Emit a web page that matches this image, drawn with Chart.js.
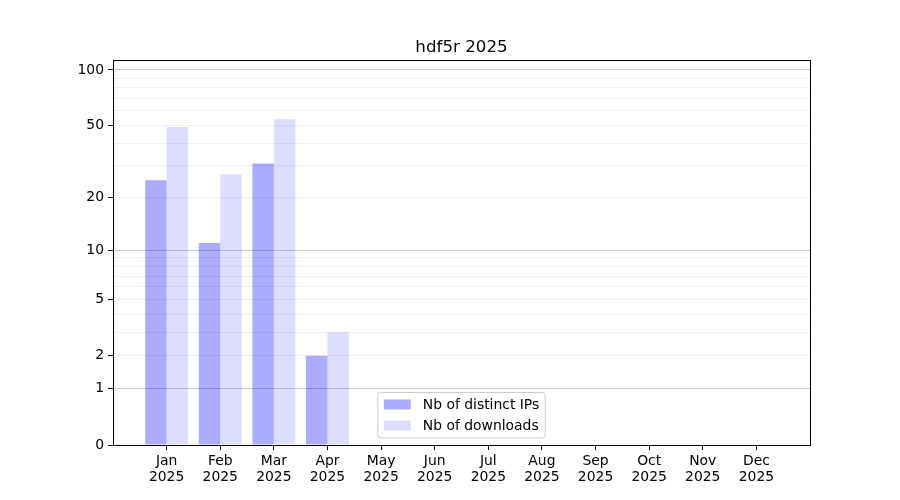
<!DOCTYPE html>
<html>
<head>
<meta charset="utf-8">
<script src="https://cdn.jsdelivr.net/npm/chart.js@4/dist/chart.umd.min.js"></script>
<style>
  html, body { margin: 0; padding: 0; background: #ffffff; }
  #wrap { width: 900px; height: 500px; position: relative; }
</style>
</head>
<body>
<div id="wrap"><canvas id="c" width="900" height="500"></canvas></div>
<script>
// ---- data ----
const chartTitle = 'hdf5r 2025';
const months = ['Jan', 'Feb', 'Mar', 'Apr', 'May', 'Jun', 'Jul', 'Aug', 'Sep', 'Oct', 'Nov', 'Dec'];
const yearLabel = '2025';
const distinctIPs = [25, 11, 31, 2, null, null, null, null, null, null, null, null];
const downloads = [49, 27, 54, 3, null, null, null, null, null, null, null, null];
const seriesLabels = ['Nb of distinct IPs', 'Nb of downloads'];
const yLabelTicks = [0, 1, 2, 5, 10, 20, 50, 100];
const yDecadeTicks = [1, 10, 100];
const yGridTicks = [0, 1, 2, 3, 4, 5, 6, 7, 8, 9, 10, 20, 30, 40, 50, 60, 70, 80, 90, 100];

// y axis transform: log10(1 + v)
const tf = v => Math.log10(1 + v);
const inv = t => Math.round(Math.pow(10, t) - 1);

const FONT = "'DejaVu Sans', sans-serif";
const colIPs = 'rgba(0, 0, 255, 0.33)';
const colDl = 'rgba(0, 0, 255, 0.133)';

const toPoints = arr => arr.map((v, i) => ({ x: i, y: v == null ? null : tf(v) }));

const frame = {
  id: 'frame',
  afterDraw(chart) {
    const { ctx, chartArea: a } = chart;
    ctx.save();
    ctx.strokeStyle = '#000';
    ctx.lineWidth = 1;
    ctx.strokeRect(Math.round(a.left) + 0.5, Math.round(a.top) + 0.5,
      Math.round(a.right - a.left), Math.round(a.bottom - a.top));
    // title centred over the plot area
    ctx.fillStyle = '#000';
    ctx.font = '16.7px ' + FONT;
    ctx.textAlign = 'center';
    ctx.textBaseline = 'alphabetic';
    ctx.fillText(chartTitle, (a.left + a.right) / 2, a.top - 8.5);
    ctx.restore();
  }
};

const boxLegend = {
  id: 'boxLegend',
  afterDatasetsDraw(chart) {
    const { ctx, chartArea: a } = chart;
    const ds = chart.data.datasets;
    ctx.save();
    ctx.font = '13.9px ' + FONT;
    const tw = Math.max(...ds.map(d => ctx.measureText(d.label).width));
    const w = 6 + 27 + 12 + tw + 6;
    const h = 45.5;
    const x0 = (a.left + a.right) / 2 - w / 2;
    const y0 = a.bottom - 7 - h;
    ctx.beginPath();
    ctx.roundRect(x0, y0, w, h, 3);
    ctx.fillStyle = 'rgba(255,255,255,0.8)';
    ctx.fill();
    ctx.strokeStyle = '#cccccc';
    ctx.lineWidth = 1;
    ctx.stroke();
    ds.forEach((d, i) => {
      const cy = y0 + 12 + i * 21;
      ctx.fillStyle = d.backgroundColor;
      ctx.fillRect(x0 + 6, cy - 5, 27, 10);
      ctx.fillStyle = '#000';
      ctx.textBaseline = 'middle';
      ctx.textAlign = 'left';
      ctx.fillText(d.label, x0 + 45, cy + 0.5);
    });
    ctx.restore();
  }
};

new Chart(document.getElementById('c'), {
  type: 'bar',
  data: {
    datasets: [
      { label: seriesLabels[0], data: toPoints(distinctIPs), backgroundColor: colIPs,
        barPercentage: 1.0, categoryPercentage: 0.8 },
      { label: seriesLabels[1], data: toPoints(downloads), backgroundColor: colDl,
        barPercentage: 1.0, categoryPercentage: 0.8 }
    ]
  },
  options: {
    responsive: false,
    animation: false,
    devicePixelRatio: 1,
    layout: { padding: { left: 0, right: 90, top: 60, bottom: 0 } },
    plugins: {
      legend: { display: false },
      tooltip: { enabled: false },
      title: { display: false }
    },
    scales: {
      x: {
        type: 'linear', min: -1, max: 12, offset: false,
        afterBuildTicks: s => { s.ticks = months.map((m, i) => ({ value: i })); },
        afterFit: s => { s.height = 55; },
        ticks: {
          color: '#000', padding: 3, maxRotation: 0, autoSkip: false,
          font: { family: FONT, size: 13.9, lineHeight: 1.15 },
          callback: v => (months[v] !== undefined ? [months[v], yearLabel] : '')
        },
        grid: { offset: false, drawOnChartArea: false, drawTicks: true, tickLength: 5, tickColor: '#000' },
        border: { display: true, color: '#000', width: 1 }
      },
      y: {
        type: 'linear', min: 0, max: 2.0577,
        afterBuildTicks: s => { s.ticks = yGridTicks.map(v => ({ value: tf(v) })); },
        afterFit: s => { s.width = 113; },
        ticks: {
          color: '#000', padding: 4, autoSkip: false,
          font: { family: FONT, size: 13.9 },
          callback: val => { const v = inv(val); return yLabelTicks.includes(v) ? String(v) : ''; }
        },
        grid: {
          drawTicks: true, tickLength: 5,
          tickColor: c => yLabelTicks.includes(inv(c.tick.value)) ? '#000' : 'rgba(0,0,0,0)',
          color: c => {
            const v = inv(c.tick.value);
            if (v === 0) return 'rgba(0,0,0,0)';
            return yDecadeTicks.includes(v) ? 'rgba(176,176,176,0.65)' : 'rgba(176,176,176,0.2)';
          },
          lineWidth: 1
        },
        border: { display: true, color: '#000', width: 1 }
      }
    }
  },
  plugins: [frame, boxLegend]
});
</script>
</body>
</html>
